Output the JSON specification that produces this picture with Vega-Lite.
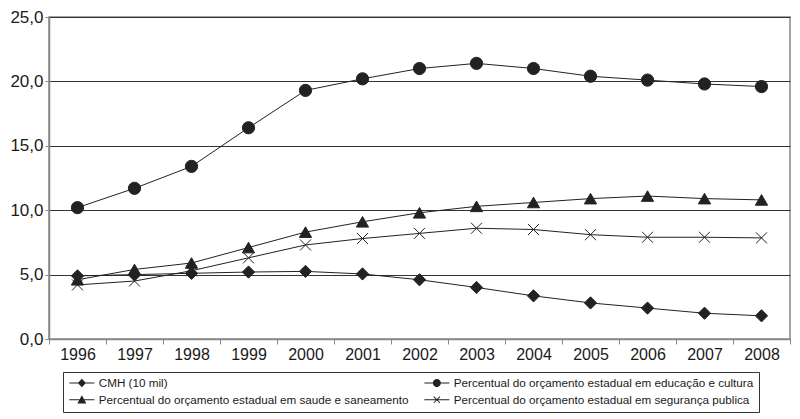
{
  "$schema": "https://vega.github.io/schema/vega-lite/v6.json",
  "width": 741,
  "height": 322,
  "autosize": "none",
  "padding": {"left": 49, "top": 17, "right": 10, "bottom": 80},
  "background": "white",
  "config": {
    "view": {"stroke": "#888888", "strokeWidth": 1.5},
    "font": "Liberation Sans"
  },
  "data": {
    "values": [
      {"ano": "1996", "serie": "CMH (10 mil)", "valor": 4.9},
      {"ano": "1997", "serie": "CMH (10 mil)", "valor": 5.0},
      {"ano": "1998", "serie": "CMH (10 mil)", "valor": 5.1},
      {"ano": "1999", "serie": "CMH (10 mil)", "valor": 5.2},
      {"ano": "2000", "serie": "CMH (10 mil)", "valor": 5.25},
      {"ano": "2001", "serie": "CMH (10 mil)", "valor": 5.05},
      {"ano": "2002", "serie": "CMH (10 mil)", "valor": 4.6},
      {"ano": "2003", "serie": "CMH (10 mil)", "valor": 4.0},
      {"ano": "2004", "serie": "CMH (10 mil)", "valor": 3.35},
      {"ano": "2005", "serie": "CMH (10 mil)", "valor": 2.8},
      {"ano": "2006", "serie": "CMH (10 mil)", "valor": 2.4},
      {"ano": "2007", "serie": "CMH (10 mil)", "valor": 2.0},
      {"ano": "2008", "serie": "CMH (10 mil)", "valor": 1.8},
      {"ano": "1996", "serie": "Percentual do orçamento estadual em educação e cultura", "valor": 10.2},
      {"ano": "1997", "serie": "Percentual do orçamento estadual em educação e cultura", "valor": 11.7},
      {"ano": "1998", "serie": "Percentual do orçamento estadual em educação e cultura", "valor": 13.4},
      {"ano": "1999", "serie": "Percentual do orçamento estadual em educação e cultura", "valor": 16.4},
      {"ano": "2000", "serie": "Percentual do orçamento estadual em educação e cultura", "valor": 19.3},
      {"ano": "2001", "serie": "Percentual do orçamento estadual em educação e cultura", "valor": 20.2},
      {"ano": "2002", "serie": "Percentual do orçamento estadual em educação e cultura", "valor": 21.0},
      {"ano": "2003", "serie": "Percentual do orçamento estadual em educação e cultura", "valor": 21.4},
      {"ano": "2004", "serie": "Percentual do orçamento estadual em educação e cultura", "valor": 21.0},
      {"ano": "2005", "serie": "Percentual do orçamento estadual em educação e cultura", "valor": 20.4},
      {"ano": "2006", "serie": "Percentual do orçamento estadual em educação e cultura", "valor": 20.1},
      {"ano": "2007", "serie": "Percentual do orçamento estadual em educação e cultura", "valor": 19.8},
      {"ano": "2008", "serie": "Percentual do orçamento estadual em educação e cultura", "valor": 19.6},
      {"ano": "1996", "serie": "Percentual do orçamento estadual em saude e saneamento", "valor": 4.6},
      {"ano": "1997", "serie": "Percentual do orçamento estadual em saude e saneamento", "valor": 5.4},
      {"ano": "1998", "serie": "Percentual do orçamento estadual em saude e saneamento", "valor": 5.9},
      {"ano": "1999", "serie": "Percentual do orçamento estadual em saude e saneamento", "valor": 7.1},
      {"ano": "2000", "serie": "Percentual do orçamento estadual em saude e saneamento", "valor": 8.3},
      {"ano": "2001", "serie": "Percentual do orçamento estadual em saude e saneamento", "valor": 9.1},
      {"ano": "2002", "serie": "Percentual do orçamento estadual em saude e saneamento", "valor": 9.8},
      {"ano": "2003", "serie": "Percentual do orçamento estadual em saude e saneamento", "valor": 10.3},
      {"ano": "2004", "serie": "Percentual do orçamento estadual em saude e saneamento", "valor": 10.6},
      {"ano": "2005", "serie": "Percentual do orçamento estadual em saude e saneamento", "valor": 10.9},
      {"ano": "2006", "serie": "Percentual do orçamento estadual em saude e saneamento", "valor": 11.1},
      {"ano": "2007", "serie": "Percentual do orçamento estadual em saude e saneamento", "valor": 10.9},
      {"ano": "2008", "serie": "Percentual do orçamento estadual em saude e saneamento", "valor": 10.8},
      {"ano": "1996", "serie": "Percentual do orçamento estadual em segurança publica", "valor": 4.2},
      {"ano": "1997", "serie": "Percentual do orçamento estadual em segurança publica", "valor": 4.5},
      {"ano": "1998", "serie": "Percentual do orçamento estadual em segurança publica", "valor": 5.3},
      {"ano": "1999", "serie": "Percentual do orçamento estadual em segurança publica", "valor": 6.3},
      {"ano": "2000", "serie": "Percentual do orçamento estadual em segurança publica", "valor": 7.3},
      {"ano": "2001", "serie": "Percentual do orçamento estadual em segurança publica", "valor": 7.8},
      {"ano": "2002", "serie": "Percentual do orçamento estadual em segurança publica", "valor": 8.2},
      {"ano": "2003", "serie": "Percentual do orçamento estadual em segurança publica", "valor": 8.6},
      {"ano": "2004", "serie": "Percentual do orçamento estadual em segurança publica", "valor": 8.5},
      {"ano": "2005", "serie": "Percentual do orçamento estadual em segurança publica", "valor": 8.1},
      {"ano": "2006", "serie": "Percentual do orçamento estadual em segurança publica", "valor": 7.9},
      {"ano": "2007", "serie": "Percentual do orçamento estadual em segurança publica", "valor": 7.9},
      {"ano": "2008", "serie": "Percentual do orçamento estadual em segurança publica", "valor": 7.85}
    ]
  },
  "encoding": {
    "x": {
      "field": "ano",
      "type": "ordinal",
      "scale": {"type": "band", "paddingInner": 0, "paddingOuter": 0},
      "axis": {
        "title": null,
        "labelAngle": 0,
        "labelFontSize": 16,
        "labelColor": "#1a1a1a",
        "labelPadding": 2,
        "tickBand": "extent",
        "tickSize": 5,
        "tickColor": "#888888",
        "domainColor": "#888888",
        "domainWidth": 1.5,
        "grid": false
      }
    },
    "y": {
      "field": "valor",
      "type": "quantitative",
      "scale": {"domain": [0, 25], "nice": false, "zero": true},
      "axis": {
        "title": null,
        "values": [0, 5, 10, 15, 20, 25],
        "labelExpr": "replace(format(datum.value, '.1f'), '.', ',')",
        "labelFontSize": 17,
        "labelColor": "#1a1a1a",
        "labelPadding": 2,
        "tickSize": 4,
        "tickColor": "#888888",
        "domainColor": "#888888",
        "domainWidth": 1.5,
        "grid": true,
        "gridColor": "#333333",
        "gridWidth": 1
      }
    }
  },
  "layer": [
    {
      "mark": {"type": "line", "color": "#222222", "strokeWidth": 1},
      "encoding": {"detail": {"field": "serie"}}
    },
    {
      "mark": {"type": "point", "filled": true, "color": "#222222", "stroke": "#222222", "strokeWidth": 1, "size": 150, "opacity": 1},
      "encoding": {
        "shape": {
          "field": "serie",
          "type": "nominal",
          "scale": {
            "domain": ["CMH (10 mil)", "Percentual do orçamento estadual em educação e cultura", "Percentual do orçamento estadual em saude e saneamento", "Percentual do orçamento estadual em segurança publica"],
            "range": ["diamond", "circle", "triangle-up", "M-0.9,-0.9L0.9,0.9M-0.9,0.9L0.9,-0.9"]
          },
          "legend": null
        }
      }
    },
    {
      "mark": {"type": "point", "filled": true, "color": "#222222", "opacity": 0},
      "encoding": {
        "shape": {
          "field": "serie",
          "type": "nominal",
          "scale": {
            "domain": ["CMH (10 mil)", "Percentual do orçamento estadual em educação e cultura", "Percentual do orçamento estadual em saude e saneamento", "Percentual do orçamento estadual em segurança publica"],
            "range": [
              "M-1,-0.11L4.56,-0.11L4.56,0.11L-1,0.11ZM1.78,-0.95L2.68,0L1.78,0.95L0.88,0Z",
              "M-1,-0.11L4.56,-0.11L4.56,0.11L-1,0.11ZM0.88,0A0.9,0.9 0 1,1 2.68,0A0.9,0.9 0 1,1 0.88,0Z",
              "M-1,-0.11L4.56,-0.11L4.56,0.11L-1,0.11ZM1.78,-1L2.78,0.8L0.78,0.8Z",
              "M-1,-0.11L4.56,-0.11L4.56,0.11L-1,0.11ZM1.158,-0.778L2.558,0.622L2.402,0.778L1.002,-0.622ZM1.158,0.778L1.002,0.622L2.402,-0.778L2.558,-0.622Z"
            ]
          },
          "legend": {
            "title": null,
            "orient": "none",
            "direction": "horizontal",
            "legendX": 14,
            "legendY": 355,
            "columns": 2,
            "columnPadding": 14,
            "rowPadding": 4,
            "padding": 5,
            "strokeColor": "#333333",
            "symbolSize": 81,
            "symbolFillColor": "#222222",
            "symbolStrokeColor": "#222222",
            "symbolStrokeWidth": 0,
            "symbolOpacity": 1,
            "labelOffset": 19,
            "labelFontSize": 11.7,
            "labelColor": "#1a1a1a",
            "labelLimit": 400
          }
        }
      }
    }
  ],
  "resolve": {"scale": {"shape": "independent"}}
}
